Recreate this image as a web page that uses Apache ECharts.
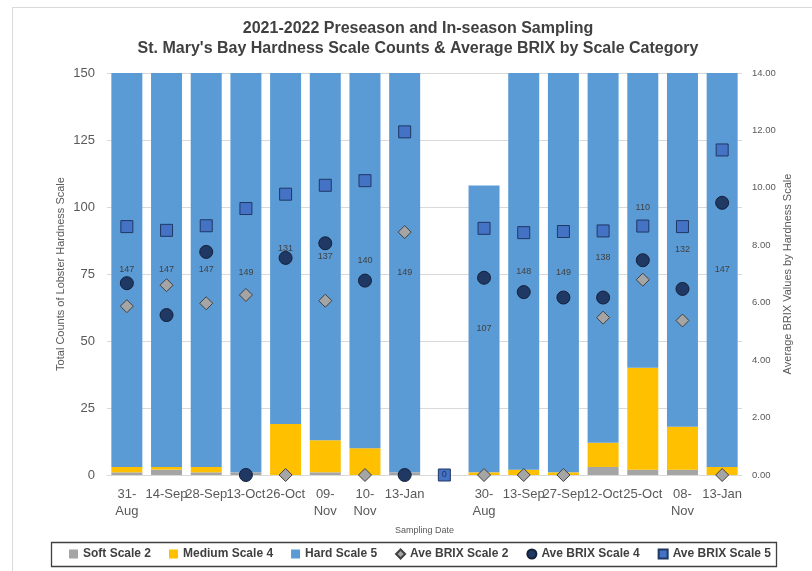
<!DOCTYPE html>
<html>
<head>
<meta charset="utf-8">
<script src="https://cdn.jsdelivr.net/npm/echarts@6/dist/echarts.min.js"></script>
<style>html,body{margin:0;padding:0;background:#fff;}#c{width:812px;height:571px;}</style>
</head>
<body>
<div id="c"></div>
<script>
// Categories / tick labels
const categories = ['31-\nAug','14-Sep','28-Sep','13-Oct','26-Oct','09-\nNov','10-\nNov','13-Jan','','30-\nAug','13-Sep','27-Sep','12-Oct','25-Oct','08-\nNov','13-Jan'];
// Counts
const softScale2   = [1, 2, 1, 1, 0, 1, 0, 1, null, 0, 0, 0, 3, 2, 2, 0];
const mediumScale4 = [2, 1, 2, 0, 19, 12, 10, 0, null, 1, 2, 1, 9, 38, 16, 3];
const hardScale5   = [147, 147, 147, 149, 131, 137, 140, 149, null, 107, 148, 149, 138, 110, 132, 147];
// Average BRIX
const brixScale2 = [5.88, 6.61, 5.98, 6.27, 0, 6.07, 0, 8.46, null, 0, 0, 0, 5.48, 6.80, 5.38, 0];
const brixScale4 = [6.68, 5.57, 7.77, 0, 7.56, 8.07, 6.77, 0, null, 6.87, 6.37, 6.18, 6.18, 7.48, 6.48, 9.48];
const brixScale5 = [8.65, 8.52, 8.68, 9.28, 9.78, 10.09, 10.25, 11.95, 0, 8.59, 8.44, 8.48, 8.50, 8.67, 8.65, 11.32];
// Axis ticks
const leftTicks = [0, 25, 50, 75, 100, 125, 150];
const rightTicks = [0, 2, 4, 6, 8, 10, 12, 14];

const FONT = "'Liberation Sans', Arial, sans-serif";
const chart = echarts.init(document.getElementById('c'), null, {renderer: 'canvas'});
const option = {
  backgroundColor: '#fff',
  animation: false,
  textStyle: {fontFamily: FONT},
  title: {
    text: '2021-2022 Preseason and In-season Sampling\nSt. Mary\'s Bay Hardness Scale Counts & Average BRIX by Scale Category',
    left: 413, top: 14, textAlign: 'center',
    textStyle: {fontSize: 16, fontWeight: 'bold', color: '#404040', lineHeight: 20, fontFamily: FONT}
  },
  graphic: [
    {type: 'rect', shape: {x: 12.5, y: 7.5, width: 900, height: 700}, style: {fill: 'none', stroke: '#D9D9D9', lineWidth: 1}, z: -10},
    {type: 'rect', shape: {x: 51.5, y: 542.5, width: 725, height: 24}, style: {fill: 'none', stroke: '#404040', lineWidth: 1.3}, z: -5}
  ],
  legend: {
    left: 69, top: 548, itemGap: 18, itemWidth: 9, itemHeight: 9, padding: 0,
    textStyle: {fontSize: 12, fontWeight: 'bold', color: '#404040', fontFamily: FONT},
    data: [
      {name: 'Soft Scale 2', icon: 'rect'},
      {name: 'Medium Scale 4', icon: 'rect'},
      {name: 'Hard Scale 5', icon: 'rect'},
      {name: 'Ave BRIX Scale 2', icon: 'diamond'},
      {name: 'Ave BRIX Scale 4', icon: 'circle'},
      {name: 'Ave BRIX Scale 5', icon: 'rect'}
    ]
  },
  grid: {left: 107, right: 70, top: 73, bottom: 96, containLabel: false},
  xAxis: {
    type: 'category', data: categories,
    name: 'Sampling Date', nameLocation: 'middle', nameGap: 51,
    nameTextStyle: {fontSize: 9, color: '#595959'},
    axisLine: {lineStyle: {color: '#D9D9D9'}},
    axisTick: {show: false},
    axisLabel: {interval: 0, fontSize: 13, color: '#595959', lineHeight: 17, margin: 11}
  },
  yAxis: [
    {
      type: 'value', min: 0, max: 150, interval: 25,
      name: 'Total Counts of Lobster Hardness Scale', nameLocation: 'middle', nameGap: 41, nameRotate: 90,
      nameMoveOverlap: false,
      nameTextStyle: {fontSize: 11, color: '#595959'},
      axisLine: {show: false}, axisTick: {show: false},
      axisLabel: {fontSize: 13, color: '#595959', margin: 12},
      splitLine: {lineStyle: {color: '#D9D9D9'}}
    },
    {
      type: 'value', min: 0, max: 14, interval: 2,
      name: 'Average BRIX Values by Hardness Scale', nameLocation: 'middle', nameGap: 40, nameRotate: 90,
      nameMoveOverlap: false,
      nameTextStyle: {fontSize: 11, color: '#595959'},
      axisLine: {show: false}, axisTick: {show: false},
      axisLabel: {fontSize: 9.5, color: '#595959', margin: 10, formatter: v => v.toFixed(2)},
      splitLine: {show: false}
    }
  ],
  series: [
    {name: 'Soft Scale 2', type: 'bar', stack: 'c', barWidth: 31, data: softScale2, itemStyle: {color: '#A5A5A5'}},
    {name: 'Medium Scale 4', type: 'bar', stack: 'c', barWidth: 31, data: mediumScale4, itemStyle: {color: '#FFC000'}},
    {name: 'Hard Scale 5', type: 'bar', stack: 'c', barWidth: 31, itemStyle: {color: '#5B9BD5'},
      data: hardScale5.map((v, i) => i === 13 ? {value: v, label: {offset: [0, -13]}} : v),
      label: {show: true, position: 'inside', fontSize: 9, color: '#404040'}},
    {name: 'Ave BRIX Scale 2', type: 'scatter', yAxisIndex: 1, data: brixScale2, symbol: 'diamond', symbolSize: 13,
      itemStyle: {color: '#A5A5A5', borderColor: '#404040', borderWidth: 1, opacity: 1}, z: 3},
    {name: 'Ave BRIX Scale 4', type: 'scatter', yAxisIndex: 1, data: brixScale4, symbol: 'circle', symbolSize: 13,
      itemStyle: {color: '#203864', borderColor: '#141F38', borderWidth: 1, opacity: 1}, z: 4},
    {name: 'Ave BRIX Scale 5', type: 'scatter', yAxisIndex: 1, symbol: 'rect', symbolSize: 12,
      data: brixScale5.map((v, i) => categories[i] === '' ? {value: v, label: {show: true, formatter: '{c}', position: 'inside', fontSize: 9, color: '#1F3864'}} : v),
      itemStyle: {color: '#4472C4', borderColor: '#1F3864', borderWidth: 1, opacity: 1}, z: 5}
  ]
};
chart.setOption(option);
</script>
</body>
</html>
